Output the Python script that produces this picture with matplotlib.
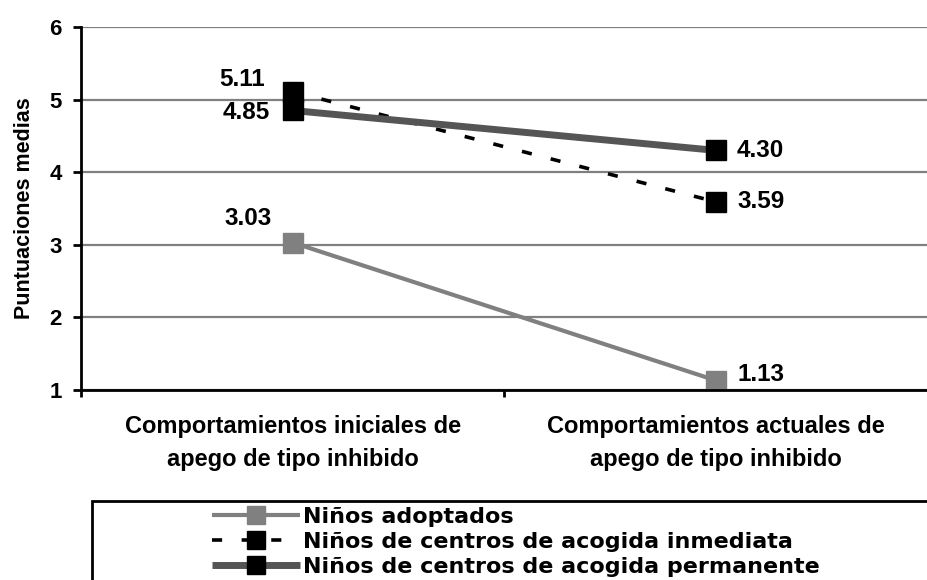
import matplotlib
matplotlib.use("Agg")
import matplotlib.pyplot as plt
from matplotlib.patches import Rectangle

categories = ["Comportamientos iniciales de\napego de tipo inhibido",
              "Comportamientos actuales de\napego de tipo inhibido"]
series_names = ["Niños adoptados",
                "Niños de centros de acogida inmediata",
                "Niños de centros de acogida permanente"]
adoptados = [3.03, 1.13]
inmediata = [5.11, 3.59]
permanente = [4.85, 4.30]
y_ticks = [1, 2, 3, 4, 5, 6]

plt.rcParams['font.family'] = ['Liberation Sans', 'DejaVu Sans']
plt.rcParams['font.weight'] = 'bold'

fig = plt.figure(figsize=(9.28, 5.8), dpi=100)
ax = fig.add_axes([81/928, 1-390/580, 1-81/928, (390-27)/580])

x = [0, 1]
ax.set_xlim(-0.5, 1.5)
ax.set_ylim(1, 6)
ax.set_yticks(y_ticks)
ax.yaxis.grid(True, color='#808080', lw=1.6)
ax.set_axisbelow(True)

l1, = ax.plot(x, adoptados, color='#808080', lw=3, marker='s', ms=14.5,
              mfc='#808080', mec='#808080', solid_capstyle='butt')
l2, = ax.plot(x, inmediata, color='black', lw=2.6, marker='s', ms=14.5,
              mfc='black', mec='black', dashes=(2.8, 5.4))
l3, = ax.plot(x, permanente, color='#555555', lw=5, marker='s', ms=15,
              mfc='black', mec='black', solid_capstyle='butt')

lab_kw = dict(textcoords='offset points', fontsize=17.5, fontweight='bold', va='center')
# values of the first point sit to its left, of the second point to its right
ax.annotate(f"{inmediata[0]:.2f}", (x[0], inmediata[0]), xytext=(-20, 9), ha='right', **lab_kw)
ax.annotate(f"{permanente[0]:.2f}", (x[0], permanente[0]), xytext=(-16.5, -1.8), ha='right', **lab_kw)
ax.annotate(f"{adoptados[0]:.2f}", (x[0], adoptados[0]), xytext=(-15, 17.7), ha='right', **lab_kw)
ax.annotate(f"{permanente[1]:.2f}", (x[1], permanente[1]), xytext=(15, 0), ha='left', **lab_kw)
ax.annotate(f"{inmediata[1]:.2f}", (x[1], inmediata[1]), xytext=(15, 0), ha='left', **lab_kw)
ax.annotate(f"{adoptados[1]:.2f}", (x[1], adoptados[1]), xytext=(15, 4.7), ha='left', **lab_kw)

ax.set_xticks(x)
ax.set_xticklabels(categories, fontsize=17, fontweight='bold', linespacing=1.56)
ax.set_xticks([-0.5, 0.5, 1.5], minor=True)
ax.tick_params(axis='x', which='major', length=0, pad=18)
ax.tick_params(axis='x', which='minor', length=5, width=2, direction='out')
ax.tick_params(axis='y', length=6, width=2, direction='out', labelsize=16, pad=8)
for t in ax.get_yticklabels():
    t.set_fontweight('bold')

for s in ['top', 'right']:
    ax.spines[s].set_visible(False)
for s in ['left', 'bottom']:
    ax.spines[s].set_linewidth(2)
    ax.spines[s].set_color('black')

ax.set_ylabel("Puntuaciones medias", fontsize=15.5, fontweight='bold')
ax.yaxis.set_label_coords(-0.054, 0.5)

# legend frame
fig.add_artist(Rectangle((92/928, -0.05), 0.95, 0.05 + 1-501/580,
                         transform=fig.transFigure, fill=False, ec='black', lw=2))
leg = fig.legend([l1, l2, l3], series_names, loc='upper left',
                 bbox_to_anchor=(212/928, 1-507/580), frameon=False,
                 handlelength=3.95, handletextpad=0.14, labelspacing=0.22,
                 markerscale=0.87, borderpad=0, borderaxespad=0,
                 prop=dict(family='DejaVu Sans', weight='bold', size=16))

fig.savefig("out.png", dpi=100)
